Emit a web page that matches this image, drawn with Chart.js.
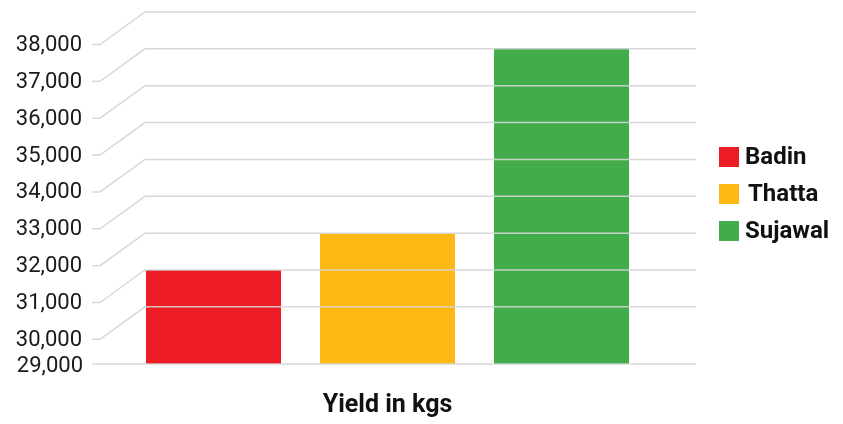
<!DOCTYPE html>
<html>
<head>
<meta charset="utf-8">
<script src="https://cdn.jsdelivr.net/npm/chart.js@4.4.1/dist/chart.umd.min.js"></script>
<style>
    html, body { margin: 0; padding: 0; background: #fff; }
    #wrap { width: 843px; height: 424px; }
</style>
</head>
<body>
<div id="wrap"><canvas id="yieldChart"></canvas></div>
<script>
// data (values against the back wall)
const categories = ['Yield in kgs'];
const seriesNames = ['Badin', 'Thatta', 'Sujawal'];
const seriesValues = [31000, 32000, 37020];
const seriesColors = ['#ed1c24', '#fdb913', '#43ac4a'];
const yTicks = [29000, 30000, 31000, 32000, 33000, 34000, 35000, 36000, 37000, 38000];

const FONT = 'Roboto, "Noto Sans", sans-serif';
const DEPTH_Y = 32.5;   // fake 3d offset of the back wall
const WALL_LEFT = 145, WALL_RIGHT = 696, TICK_LEFT = 92, TICK_RIGHT = 100;

// gridlines + perspective ticks + y labels, drawn on top of bars like the original
const wallPlugin = {
    id: 'wall',
    afterDatasetsDraw(chart) {
        const ctx = chart.ctx;
        const y = chart.scales.y;
        ctx.save();
        ctx.lineWidth = 1.5;
        ctx.strokeStyle = 'rgba(212,212,212,0.9)';
        ctx.fillStyle = '#1a1a1a';
        ctx.font = '22px ' + FONT;
        ctx.textAlign = 'right';
        ctx.textBaseline = 'middle';
        yTicks.forEach((v, i) => {
            const label = v.toLocaleString('en-US');
            ctx.beginPath();
            if (i === 0) {
                // floor front edge
                const fy = y.bottom;
                ctx.moveTo(TICK_LEFT, fy);
                ctx.lineTo(WALL_RIGHT, fy);
                ctx.stroke();
                ctx.fillText(label, 83, fy + 2);
            } else {
                const by = y.getPixelForValue(v);
                const fy = by + DEPTH_Y;
                ctx.moveTo(TICK_LEFT, fy);
                ctx.lineTo(TICK_RIGHT, fy);
                ctx.lineTo(WALL_LEFT, by);
                ctx.lineTo(WALL_RIGHT, by);
                ctx.stroke();
                ctx.fillText(label, 82, fy + 1);
            }
        });
        ctx.restore();
    },
    afterDraw(chart) {
        // legend on the right
        const ctx = chart.ctx;
        ctx.save();
        ctx.font = 'bold 24px ' + FONT;
        ctx.textAlign = 'left';
        ctx.textBaseline = 'middle';
        chart.data.datasets.forEach((ds, i) => {
            const top = 147 + i * 37;
            ctx.fillStyle = ds.backgroundColor;
            ctx.fillRect(719, top, 20, 20);
            ctx.fillStyle = '#111';
            ctx.fillText(ds.label, i === 1 ? 748 : 745, top + 11);
        });
        ctx.restore();
    }
};

new Chart(document.getElementById('yieldChart').getContext('2d'), {
    type: 'bar',
    data: {
        labels: categories,
        datasets: seriesNames.map((name, i) => ({
            label: name,
            data: [seriesValues[i]],
            backgroundColor: seriesColors[i],
            borderWidth: 0,
            categoryPercentage: 1,
            barPercentage: 0.776
        }))
    },
    options: {
        responsive: true,
        maintainAspectRatio: false,
        animation: false,
        layout: {padding: {left: 126.5, right: 194.5, top: 12, bottom: 0}},
        plugins: {legend: {display: false}, tooltip: {enabled: false}},
        scales: {
            x: {
                grid: {display: false, drawTicks: false},
                border: {display: false},
                ticks: {display: false},
                title: {
                    display: true,
                    text: categories[0],
                    color: '#111',
                    padding: {top: 27, bottom: 3},
                    font: {family: FONT, size: 25, weight: 'bold', lineHeight: 1.2}
                }
            },
            y: {
                display: false,
                min: 28450,
                max: 38000
            }
        }
    },
    plugins: [wallPlugin]
});
</script>
</body>
</html>
